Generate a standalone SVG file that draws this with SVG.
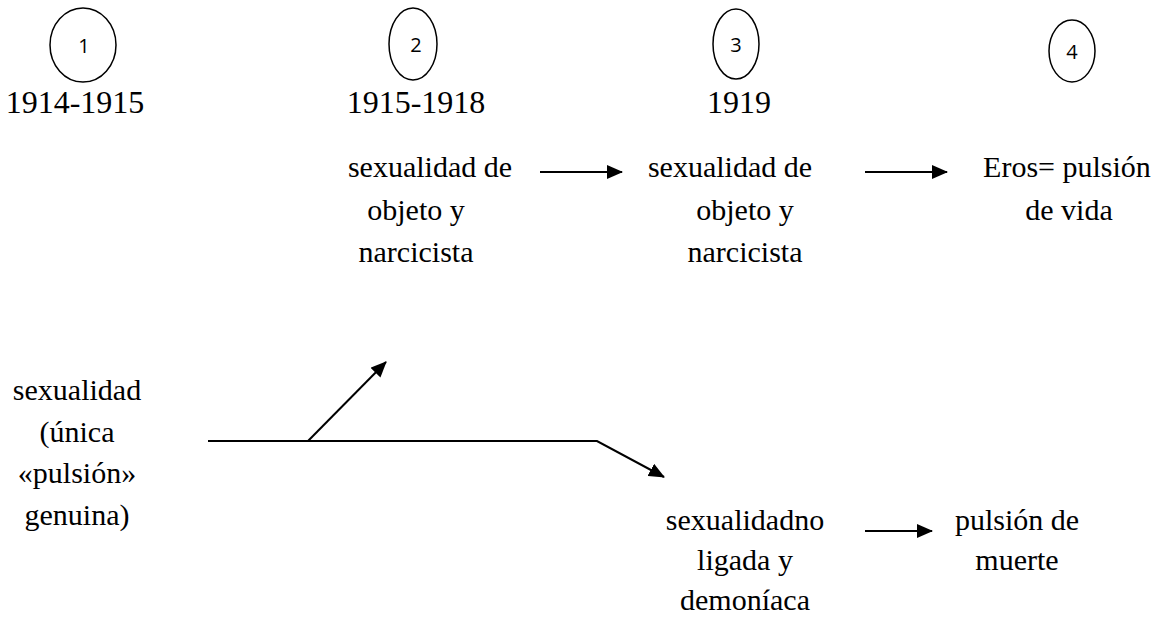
<svg xmlns="http://www.w3.org/2000/svg" width="1165" height="619" viewBox="0 0 1165 619">
<style>
.c{fill:none;stroke:#000;stroke-width:1.5}
.n{font-family:"Open Sans","Liberation Sans",sans-serif;font-size:20px;fill:#000;text-anchor:middle}
.t{font-family:"Liberation Serif","Times New Roman",serif;font-size:30px;fill:#000;text-anchor:middle}
.y{font-size:32px}
.l{fill:none;stroke:#000;stroke-width:2}
</style>
<defs>
<marker id="ah" markerWidth="8" markerHeight="7" refX="7.5" refY="3.5" orient="auto" markerUnits="strokeWidth">
<path d="M0,0 L8,3.5 L0,7 Z" fill="#000"/>
</marker>
</defs>
<g id="node1"><ellipse class="c" cx="83" cy="45" rx="33" ry="37"/><text class="n" x="84" y="53">1</text><text class="t y" x="75" y="113">1914-1915</text></g>
<g id="node2"><ellipse class="c" cx="413" cy="44" rx="24" ry="36"/><text class="n" x="416" y="52">2</text><text class="t y" x="416" y="113">1915-1918</text></g>
<g id="node3"><ellipse class="c" cx="736" cy="44" rx="23" ry="35"/><text class="n" x="736" y="52">3</text><text class="t y" x="739" y="113">1919</text></g>
<g id="node4"><ellipse class="c" cx="1072" cy="51" rx="23" ry="31"/><text class="n" x="1072" y="59">4</text></g>
<g id="col2top"><text class="t" x="430" y="177">sexualidad de</text><text class="t" x="416" y="220">objeto y</text><text class="t" x="416" y="262">narcicista</text></g>
<g id="col3top"><text class="t" x="730" y="177">sexualidad de</text><text class="t" x="745" y="220">objeto y</text><text class="t" x="745" y="262">narcicista</text></g>
<g id="col4top"><text class="t" x="1067" y="177">Eros= pulsión</text><text class="t" x="1069" y="220">de vida</text></g>
<g id="left"><text class="t" x="77" y="400">sexualidad</text><text class="t" x="77" y="442">(única</text><text class="t" x="77" y="483">«pulsión»</text><text class="t" x="77" y="525">genuina)</text></g>
<g id="col3bottom"><text class="t" x="745" y="530">sexualidadno</text><text class="t" x="745" y="570">ligada y</text><text class="t" x="745" y="610">demoníaca</text></g>
<g id="col4bottom"><text class="t" x="1017" y="530">pulsión de</text><text class="t" x="1017" y="570">muerte</text></g>
<g id="connectors">
<line class="l" x1="540" y1="172" x2="622" y2="172" marker-end="url(#ah)"/>
<line class="l" x1="865" y1="172" x2="947" y2="172" marker-end="url(#ah)"/>
<line class="l" x1="865" y1="531" x2="932" y2="531" marker-end="url(#ah)"/>
<polyline class="l" points="208,441 597,441 664,477" marker-end="url(#ah)"/>
<line class="l" x1="308" y1="441" x2="386" y2="362" marker-end="url(#ah)"/>
</g>
</svg>
